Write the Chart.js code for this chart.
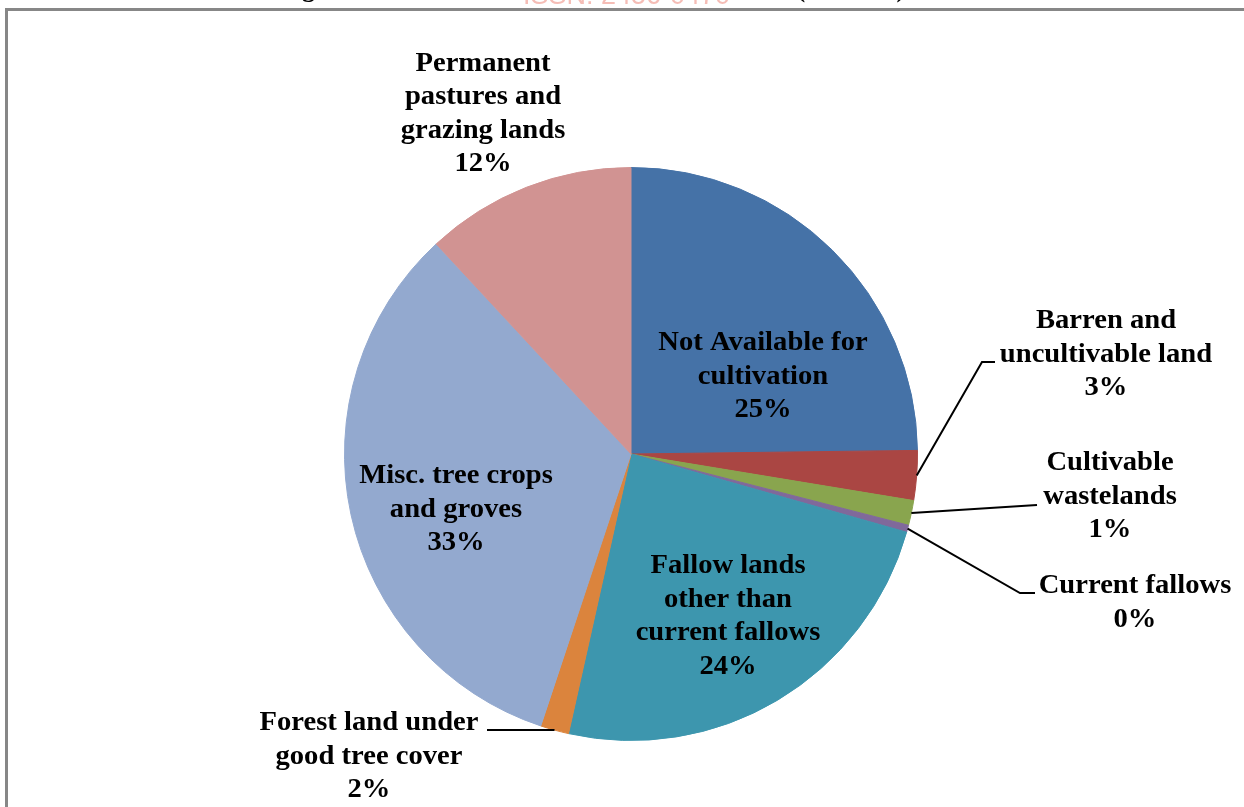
<!DOCTYPE html>
<html>
<head>
<meta charset="utf-8">
<script src="https://cdn.jsdelivr.net/npm/chart.js@4/dist/chart.umd.min.js"></script>
<style>
  html, body { margin: 0; padding: 0; background: #ffffff; }
  canvas { display: block; }
</style>
</head>
<body>
<canvas id="landUse" width="1244" height="807"></canvas>
<script>
// Land use categories and their shares of the total area (per cent)
const categories = [
  'Not Available for cultivation',
  'Barren and uncultivable land',
  'Cultivable wastelands',
  'Current fallows',
  'Fallow lands other than current fallows',
  'Forest land under good tree cover',
  'Misc. tree crops and groves',
  'Permanent pastures and grazing lands'
];
const shares = [24.8, 2.8, 1.4, 0.4, 24.1, 1.6, 33.0, 11.9];
const sliceColors = ['#4572A7', '#AA4643', '#89A54E', '#80699B', '#3D96AE', '#DB843D', '#93A9CF', '#D19392'];

// How each category name is broken over lines in its data label
const labelLines = [
  ['Not Available for', 'cultivation'],
  ['Barren and', 'uncultivable land'],
  ['Cultivable', 'wastelands'],
  ['Current fallows'],
  ['Fallow lands', 'other than', 'current fallows'],
  ['Forest land under', 'good tree cover'],
  ['Misc. tree crops', 'and groves'],
  ['Permanent', 'pastures and', 'grazing lands']
];

// Label placement: centre x and first baseline y for each category
const labelAnchors = [
  [763, 350], [1106, 328], [1110, 470], [1135, 593],
  [728, 573], [369, 730], [456, 483], [483, 70.5]
];
// Leader lines for labels placed outside the pie (points after the slice edge)
const leaderPaths = {
  1: [[982, 362], [995, 362]],
  2: [[1037, 505]],
  3: [[1020, 593], [1035, 593]],
  5: [[487, 730]]
};

const titleText = 'Figure 3: Land Utilization Pattern of the Area (in Acres)';
const watermarkText = 'ISSN: 2456-0470';

const total = shares.reduce((a, b) => a + b, 0);
const pctText = v => Math.round(v / total * 100) + '%';

const framePlugin = {
  id: 'frame',
  beforeDraw(chart) {
    const ctx = chart.ctx;
    ctx.save();
    ctx.textAlign = 'left';
    ctx.textBaseline = 'alphabetic';
    // faint watermark strip along the top edge
    ctx.fillStyle = '#F5BDB6';
    ctx.font = '27px "Liberation Sans"';
    ctx.fillText(watermarkText, 523, 4);
    // title, mostly running off the top edge
    ctx.fillStyle = '#000000';
    ctx.font = 'bold 26px "Liberation Serif"';
    ctx.fillText(titleText, 279, -3);
    // grey frame around the plot
    ctx.strokeStyle = '#878787';
    ctx.lineWidth = 3;
    ctx.beginPath();
    ctx.moveTo(6.5, 820);
    ctx.lineTo(6.5, 9.5);
    ctx.lineTo(1260, 9.5);
    ctx.stroke();
    ctx.restore();
  }
};

const labelPlugin = {
  id: 'sliceLabels',
  afterDraw(chart) {
    const ctx = chart.ctx;
    const arcs = chart.getDatasetMeta(0).data;
    ctx.save();
    // leader lines from the middle of each small slice's rim
    ctx.strokeStyle = '#000000';
    ctx.lineWidth = 2;
    Object.keys(leaderPaths).forEach(k => {
      const arc = arcs[+k];
      const mid = (arc.startAngle + arc.endAngle) / 2;
      const sx = arc.x + Math.cos(mid) * arc.outerRadius;
      const sy = arc.y + Math.sin(mid) * arc.outerRadius;
      ctx.beginPath();
      ctx.moveTo(sx, sy);
      leaderPaths[k].forEach(p => ctx.lineTo(p[0], p[1]));
      ctx.stroke();
    });
    // category name plus percentage
    ctx.fillStyle = '#000000';
    ctx.font = 'bold 27px "Liberation Serif"';
    ctx.textAlign = 'center';
    ctx.textBaseline = 'alphabetic';
    const lineH = 33.5;
    categories.forEach((c, i) => {
      const lines = labelLines[i].concat([pctText(shares[i])]);
      const [x, y0] = labelAnchors[i];
      lines.forEach((t, j) => {
        ctx.save();
        ctx.translate(x, y0 + j * lineH);
        ctx.scale(1.06, 1);
        ctx.fillText(t, 0, 0);
        ctx.restore();
      });
    });
    ctx.restore();
  }
};

new Chart(document.getElementById('landUse'), {
  type: 'pie',
  data: {
    labels: categories,
    datasets: [{
      data: shares,
      backgroundColor: sliceColors,
      borderColor: sliceColors,
      borderWidth: 1,
      hoverBorderWidth: 1,
      hoverOffset: 0,
      offset: 0
    }]
  },
  options: {
    responsive: false,
    animation: false,
    events: [],
    layout: { padding: { left: 344, top: 167, right: 326, bottom: 66 } },
    plugins: {
      legend: { display: false },
      tooltip: { enabled: false },
      title: { display: false }
    }
  },
  plugins: [framePlugin, labelPlugin]
});
</script>
</body>
</html>
